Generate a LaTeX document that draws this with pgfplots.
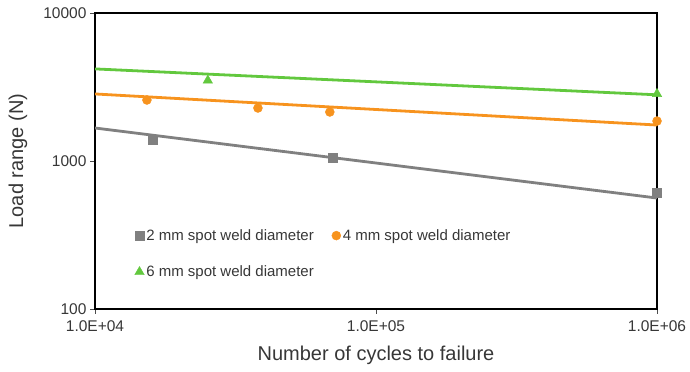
\documentclass[border=0pt]{standalone}
\usepackage{pgfplots}
\pgfplotsset{compat=1.18}
\usetikzlibrary{calc}
\usepackage{fontspec}
\setmainfont{Liberation Sans}
\definecolor{cgray}{RGB}{128,128,128}
\definecolor{corange}{RGB}{247,147,30}
\definecolor{cgreen}{RGB}{98,200,62}
\definecolor{ctext}{RGB}{55,55,55}
\begin{document}
\begin{tikzpicture}
\begin{axis}[
  name=ax,
  xmode=log, ymode=log,
  scale only axis, width=562pt, height=296pt,
  xmin=1e4, xmax=1e6, ymin=100, ymax=10000,
  xtick={1e4,1e5,1e6}, xticklabels={1.0E+04,1.0E+05,1.0E+06},
  ytick={100,1000,10000}, yticklabels={100,1000,10000},
  xminorticks=false, yminorticks=false,
  xtick pos=bottom, ytick pos=left, tick align=outside,
  major tick length=5pt,
  axis line style={line width=1.9pt},
  tick style={line width=0.8pt, black!70},
  ticklabel style={font=\fontsize{15.5}{18}\selectfont, text=ctext},
  xticklabel style={yshift=-3pt},
  /pgf/number format/assume math mode=true,
  xlabel={Number of cycles to failure}, ylabel={Load range (N)},
  label style={font=\fontsize{20}{24}\selectfont, text=ctext},
  xlabel style={at={(axis description cs:0.5,-0.155)}, anchor=center},
  ylabel style={at={(axis description cs:-0.137,0.5)}, anchor=center, rotate=0},
  legend style={draw=none, fill=none, at={(0.065,0.283)}, anchor=north west,
    font=\fontsize{15}{18}\selectfont, text=ctext, legend columns=2,
    /tikz/every even column/.append style={column sep=16pt},
    row sep=20pt},
  legend cell align=left,
  legend image code/.code={\draw[#1] plot coordinates {(0pt,0pt)};},
]
% trend lines
\addplot[cgray, line width=2.8pt, forget plot] coordinates {(1e4,1671) (1e6,562)};
\addplot[corange, line width=2.8pt, forget plot] coordinates {(1e4,2838) (1e6,1750)};
\addplot[cgreen, line width=2.8pt, forget plot] coordinates {(1e4,4190) (1e6,2800)};
% data
\addplot[only marks, mark=square*, mark size=4.5pt, cgray] coordinates {(16000,1387) (70300,1047) (1e6,608)};
\addlegendentry{2 mm spot weld diameter}
\addplot[only marks, mark=*, mark size=4.5pt, corange] coordinates {(15300,2582) (38000,2280) (68500,2143) (1e6,1862)};
\addlegendentry{4 mm spot weld diameter}
\addplot[only marks, mark=triangle*, mark size=5.5pt, cgreen] coordinates {(25200,3500) (1e6,2840)};
\addlegendentry{6 mm spot weld diameter}
\end{axis}
\pgfresetboundingbox
\path[use as bounding box] ($(ax.south west)+(-95pt,-62pt)$) rectangle ($(ax.north east)+(33pt,13pt)$);
\end{tikzpicture}
\end{document}
